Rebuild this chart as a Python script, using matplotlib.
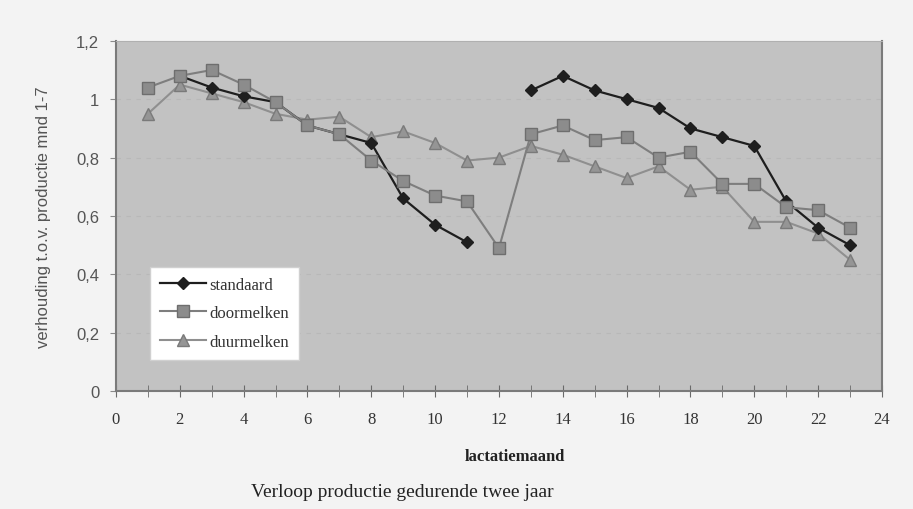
import numpy as np
import matplotlib
matplotlib.use('Agg')
import matplotlib.pyplot as plt
from matplotlib.ticker import MultipleLocator, FuncFormatter

# ============================================================
# Data
# ============================================================
maand_std_1 = [2, 3, 4, 5, 6, 7, 8, 9, 10, 11]
standaard_1 = [1.08, 1.04, 1.01, 0.99, 0.91, 0.88, 0.85, 0.66, 0.57, 0.51]
maand_std_2 = [13, 14, 15, 16, 17, 18, 19, 20, 21, 22, 23]
standaard_2 = [1.03, 1.08, 1.03, 1.00, 0.97, 0.90, 0.87, 0.84, 0.65, 0.56, 0.50]

maand = list(range(1, 24))
doormelken = [1.04, 1.08, 1.10, 1.05, 0.99, 0.91, 0.88, 0.79, 0.72, 0.67, 0.65, 0.49,
              0.88, 0.91, 0.86, 0.87, 0.80, 0.82, 0.71, 0.71, 0.63, 0.62, 0.56]
duurmelken = [0.95, 1.05, 1.02, 0.99, 0.95, 0.93, 0.94, 0.87, 0.89, 0.85, 0.79, 0.80,
              0.84, 0.81, 0.77, 0.73, 0.77, 0.69, 0.70, 0.58, 0.58, 0.54, 0.45]

x_ticks = list(range(0, 26, 2))
y_ticks = [0, 0.2, 0.4, 0.6, 0.8, 1.0, 1.2]

SERIF = ['Liberation Serif', 'DejaVu Serif']
SANS = ['Liberation Sans', 'DejaVu Sans']

plt.rcParams.update({'font.family': SANS})

fig = plt.figure(figsize=(9.13, 5.10), dpi=100, facecolor='#f3f3f3')
ax = fig.add_axes([0.127, 0.231, 0.839, 0.687])
ax.set_facecolor('#c2c2c2')

# raster (vage stippellijnen)
for yv in y_ticks[1:-1]:
    ax.axhline(yv, color='#b8b8b8', lw=0.8, ls=(0, (4, 5)), zorder=1)

ax.plot(maand_std_1, standaard_1, color='#1e1e1e', lw=1.6, marker='D',
        ms=6.5, mfc='#1e1e1e', mec='#1e1e1e', zorder=3, label='standaard')
ax.plot(maand_std_2, standaard_2, color='#1e1e1e', lw=1.6, marker='D',
        ms=6.5, mfc='#1e1e1e', mec='#1e1e1e', zorder=3)
ax.plot(maand, doormelken, color='#7e7e7e', lw=1.5, marker='s', ms=8,
        mfc='#8c8c8c', mec='#6e6e6e', zorder=4, label='doormelken')
ax.plot(maand, duurmelken, color='#8f8f8f', lw=1.5, marker='^', ms=8,
        mfc='#959595', mec='#7a7a7a', zorder=2, label='duurmelken')

ax.set_xlim(0, 24)
ax.set_ylim(0, 1.2)
ax.set_xticks(x_ticks)
ax.xaxis.set_minor_locator(MultipleLocator(1))
ax.set_yticks(y_ticks)
ax.yaxis.set_major_formatter(FuncFormatter(
    lambda v, p: ('%g' % round(v, 1)).replace('.', ',')))

for lab in ax.get_xticklabels():
    lab.set_family(SERIF)
ax.tick_params(axis='x', which='both', direction='inout', length=8,
               color='#6a6a6a', labelsize=12, labelcolor='#333333', pad=10)
ax.tick_params(axis='y', direction='out', length=4, color='#8a8a8a',
               labelsize=12, labelcolor='#555555', pad=8)

for side in ['left', 'bottom', 'right']:
    ax.spines[side].set_color('#7a7a7a')
    ax.spines[side].set_linewidth(1.5)
ax.spines['top'].set_color('#b0b0b0')

ax.set_ylabel('verhouding t.o.v. productie mnd 1-7', fontsize=12,
              color='#555555', labelpad=18)

leg = ax.legend(loc='lower left', bbox_to_anchor=(0.044, 0.09),
                borderaxespad=0,
                prop={'family': SERIF, 'size': 12}, frameon=True,
                fancybox=False, borderpad=0.6, labelspacing=0.75,
                handlelength=2.8, handletextpad=0.2)
leg.get_frame().set_facecolor('white')
leg.get_frame().set_edgecolor('#d0d0d0')
leg.get_frame().set_alpha(1)
for t in leg.get_texts():
    t.set_color('#333333')

fig.text(515 / 913, 1 - 457 / 510, 'lactatiemaand', family=SERIF,
         fontsize=12, fontweight='bold', color='#222222',
         ha='center', va='center')
fig.text(402 / 913, 1 - 493 / 510, 'Verloop productie gedurende twee jaar',
         family=SERIF, fontsize=14, color='#222222', ha='center', va='center')

fig.savefig('out.png', dpi=100, facecolor=fig.get_facecolor())
